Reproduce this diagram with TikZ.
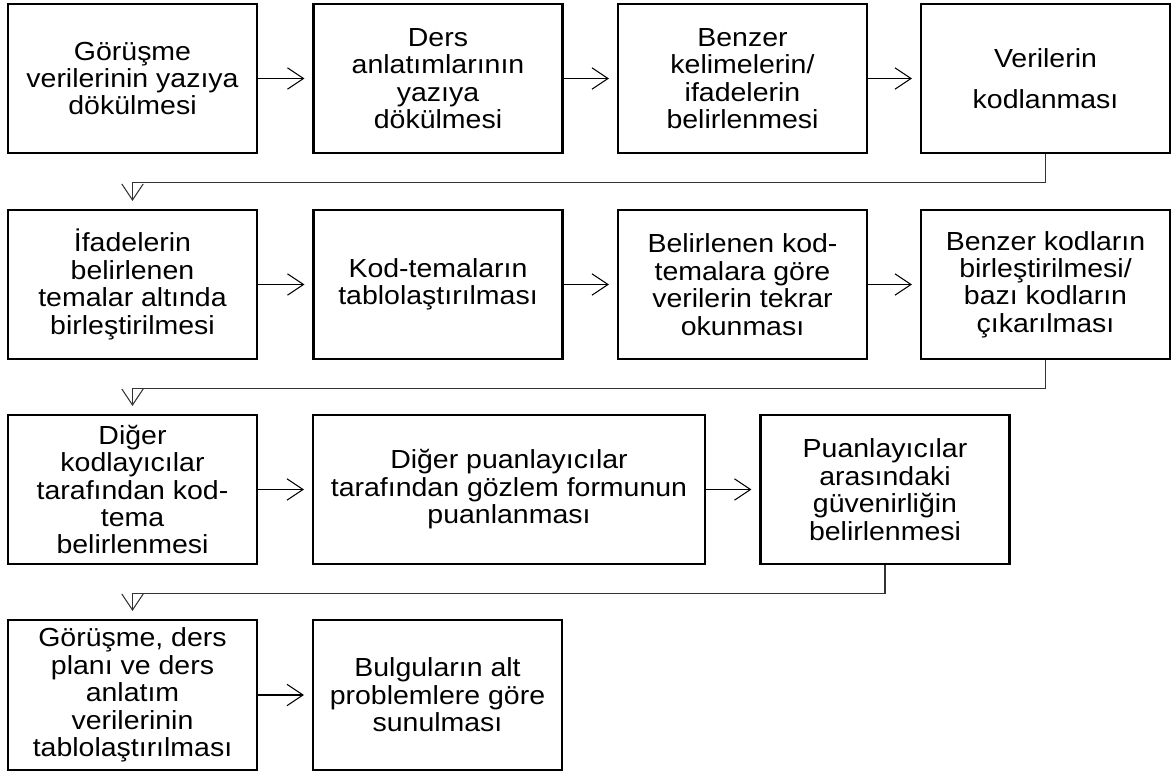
\documentclass[tikz,border=0pt]{standalone}
\usepackage{fontspec}
\setmainfont{Liberation Sans}[FakeStretch=1.09]
\usetikzlibrary{arrows.meta}
\begin{document}
\begin{tikzpicture}[x=0.75pt,y=-0.75pt,
  box/.style={draw=black,line width=1.6pt,fill=white,inner sep=0pt,align=center,
    minimum width=186.75pt,minimum height=111.75pt,
    font=\fontsize{19.6pt}{20.6pt}\selectfont},
  arr/.style={draw=black,line width=0.8pt,shorten >=6pt,
    -{Straight Barb[length=12pt,width=16pt,line width=0.8pt]}},
  conn/.style={arr,draw=black!80}]
\useasboundingbox (0,0) rectangle (1172,774);
% row 1
\node[box] (r1c1) at (132.5,78.5) {Görüşme\\verilerinin yazıya\\dökülmesi};
\node[box] (r1c2) at (438,78.5) {Ders\\anlatımlarının\\yazıya\\dökülmesi};
\node[box] (r1c3) at (742.5,78.5) {Benzer\\kelimelerin/\\ifadelerin\\belirlenmesi};
\node[box] (r1c4) at (1045.5,78.5) {Verilerin\\[10pt]kodlanması};
% row 2
\node[box] (r2c1) at (132.5,284.5) {İfadelerin\\belirlenen\\temalar altında\\birleştirilmesi};
\node[box] (r2c2) at (438,284.5) {Kod-temaların\\tablolaştırılması};
\node[box] (r2c3) at (742.5,284.5) {Belirlenen kod-\\temalara göre\\verilerin tekrar\\okunması};
\node[box] (r2c4) at (1045.5,284.5) {Benzer kodların\\birleştirilmesi/\\bazı kodların\\çıkarılması};
% row 3
\node[box] (r3c1) at (132.5,489.5) {Diğer\\kodlayıcılar\\tarafından kod-\\tema\\belirlenmesi};
\node[box,minimum width=294pt] (r3c2) at (509,489.5) {Diğer puanlayıcılar\\tarafından gözlem formunun\\puanlanması};
\node[box] (r3c3) at (885,489.5) {Puanlayıcılar\\arasındaki\\güvenirliğin\\belirlenmesi};
% row 4
\node[box,minimum height=112.5pt] (r4c1) at (132.5,695) {Görüşme, ders\\planı ve ders\\anlatım\\verilerinin\\tablolaştırılması};
\node[box,minimum height=112.5pt] (r4c2) at (437.5,695) {Bulguların alt\\problemlere göre\\sunulması};
% arrows
\draw[arr] (r1c1) -- (r1c2);
\draw[arr] (r1c2) -- (r1c3);
\draw[arr] (r1c3) -- (r1c4);
\draw[conn] (r1c4.south) -- ++(0,28) -| (r2c1.north);
\draw[arr] (r2c1) -- (r2c2);
\draw[arr] (r2c2) -- (r2c3);
\draw[arr] (r2c3) -- (r2c4);
\draw[conn] (r2c4.south) -- ++(0,28) -| (r3c1.north);
\draw[arr] (r3c1) -- (r3c2);
\draw[arr] (r3c2) -- (r3c3);
\draw[conn] (r3c3.south) -- ++(0,28) -| (r4c1.north);
\draw[arr] (r4c1) -- (r4c2);
\end{tikzpicture}
\end{document}
